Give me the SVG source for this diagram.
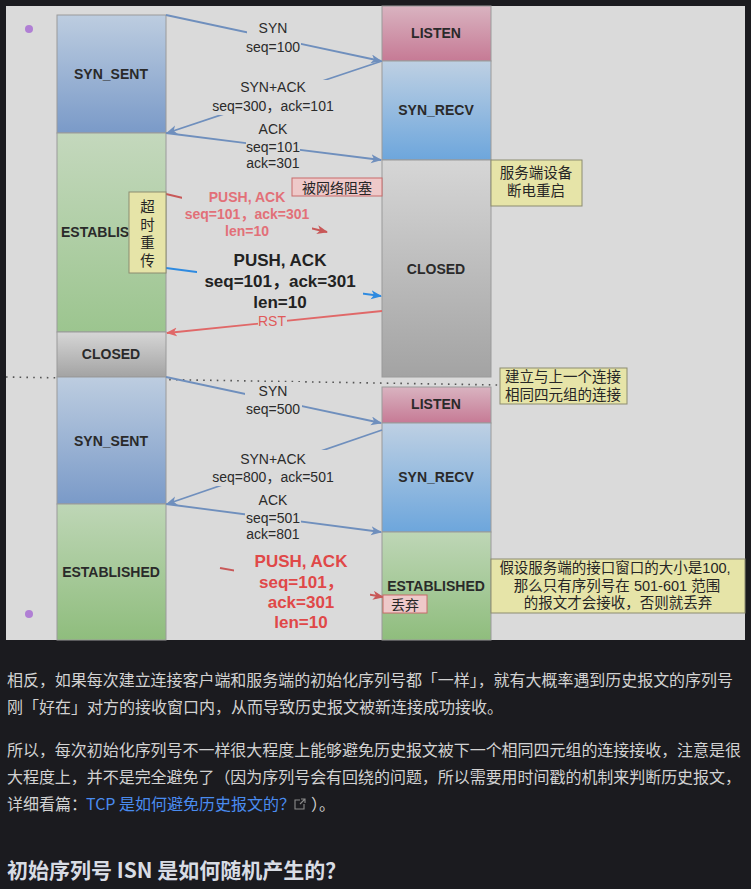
<svg xmlns="http://www.w3.org/2000/svg" width="751" height="889" viewBox="0 0 751 889">
<style>
.st{font-family:"Liberation Sans","Noto Sans CJK SC",sans-serif;font-weight:bold;font-size:14px;fill:#2a2a2a;text-anchor:middle}
.lb{font-family:"Liberation Sans","Noto Sans CJK SC",sans-serif;font-size:14px;fill:#2b2b2b;text-anchor:middle}
.big{font-family:"Liberation Sans","Noto Sans CJK SC",sans-serif;font-weight:bold;font-size:17px;text-anchor:middle}
.red1{font-family:"Liberation Sans","Noto Sans CJK SC",sans-serif;font-weight:bold;font-size:14px;fill:#e27078;text-anchor:middle}
.note{font-family:"Liberation Sans","Noto Sans CJK SC",sans-serif;font-size:14px;fill:#262626;text-anchor:middle}
.bg{fill:#dadada}
.box{stroke:#9a9a9a;stroke-width:1}
.nb{fill:#e6e4a8;stroke:#8c8c70;stroke-width:1}
.pb{fill:#eec9c9;stroke:#c86a6a;stroke-width:1}
.c{fill:none;stroke-width:1.8}
.p{font-family:"Noto Sans CJK SC",sans-serif;font-size:16px;fill:#d2d2d2}
</style>
<defs>
<linearGradient id="gSent" x1="0" y1="0" x2="0" y2="1"><stop offset="0" stop-color="#bdcde0"/><stop offset="1" stop-color="#7a9ac8"/></linearGradient>
<linearGradient id="gEst" x1="0" y1="0" x2="0" y2="1"><stop offset="0" stop-color="#c4d8bd"/><stop offset="1" stop-color="#9cc58f"/></linearGradient>
<linearGradient id="gEst2" x1="0" y1="0" x2="0" y2="1"><stop offset="0" stop-color="#bed6b6"/><stop offset="1" stop-color="#8fbd7d"/></linearGradient>
<linearGradient id="gClosed" x1="0" y1="0" x2="0" y2="1"><stop offset="0" stop-color="#d6d6d6"/><stop offset="1" stop-color="#a3a3a3"/></linearGradient>
<linearGradient id="gListen" x1="0" y1="0" x2="0" y2="1"><stop offset="0" stop-color="#d9b3c0"/><stop offset="1" stop-color="#c67a95"/></linearGradient>
<linearGradient id="gRecv" x1="0" y1="0" x2="0" y2="1"><stop offset="0" stop-color="#bed0e3"/><stop offset="1" stop-color="#6da6dc"/></linearGradient>
<marker id="aB" markerUnits="userSpaceOnUse" markerWidth="12" markerHeight="10" refX="10" refY="4.5" orient="auto"><path d="M0,0 L11,4.5 L0,9 L3,4.5 z" fill="#6f8fbd"/></marker>
<marker id="aR" markerUnits="userSpaceOnUse" markerWidth="12" markerHeight="10" refX="10" refY="4.5" orient="auto"><path d="M0,0 L11,4.5 L0,9 L3,4.5 z" fill="#c85858"/></marker>
<marker id="aRst" markerUnits="userSpaceOnUse" markerWidth="12" markerHeight="10" refX="10" refY="4.5" orient="auto"><path d="M0,0 L11,4.5 L0,9 L3,4.5 z" fill="#e06868"/></marker>
<marker id="aBl" markerUnits="userSpaceOnUse" markerWidth="12" markerHeight="10" refX="10" refY="4.5" orient="auto"><path d="M0,0 L11,4.5 L0,9 L3,4.5 z" fill="#2e8ae0"/></marker>
</defs>
<rect x="0" y="0" width="751" height="889" fill="#1b1b1f"/>
<rect x="6" y="6" width="739" height="634" fill="#dadada"/>
<circle cx="29" cy="29" r="4" fill="#b07fd4"/>
<circle cx="29" cy="614" r="4" fill="#b07fd4"/>
<line x1="6" y1="377" x2="500" y2="385" stroke="#555" stroke-width="1.6" stroke-dasharray="1.6 5.2"/>

<g id="client-syn-sent"><rect class="box" x="57" y="15" width="109" height="118" fill="url(#gSent)"/><text class="st" x="111" y="79">SYN_SENT</text></g>
<g id="client-established"><rect class="box" x="57" y="133" width="109" height="199" fill="url(#gEst)"/><text class="st" x="61" y="237" style="text-anchor:start">ESTABLIS</text></g>
<g id="client-closed"><rect class="box" x="57" y="332" width="109" height="45" fill="url(#gClosed)"/><text class="st" x="111" y="359">CLOSED</text></g>
<g id="client-syn-sent-2"><rect class="box" x="57" y="377" width="109" height="127" fill="url(#gSent)"/><text class="st" x="111" y="446">SYN_SENT</text></g>
<g id="client-established-2"><rect class="box" x="57" y="504" width="109" height="136" fill="url(#gEst2)"/><text class="st" x="111" y="577">ESTABLISHED</text></g>

<g id="server-listen"><rect class="box" x="382" y="6" width="109" height="55" fill="url(#gListen)"/><text class="st" x="436" y="38">LISTEN</text></g>
<g id="server-syn-recv"><rect class="box" x="382" y="61" width="109" height="99" fill="url(#gRecv)"/><text class="st" x="436" y="115">SYN_RECV</text></g>
<g id="server-closed"><rect class="box" x="382" y="160" width="109" height="217" fill="url(#gClosed)"/><text class="st" x="436" y="274">CLOSED</text></g>
<g id="server-listen-2"><rect class="box" x="382" y="387" width="109" height="36" fill="url(#gListen)"/><text class="st" x="436" y="409">LISTEN</text></g>
<g id="server-syn-recv-2"><rect class="box" x="382" y="423" width="109" height="109" fill="url(#gRecv)"/><text class="st" x="436" y="482">SYN_RECV</text></g>
<g id="server-established-2"><rect class="box" x="382" y="532" width="109" height="108" fill="url(#gEst2)"/><text class="st" x="436" y="591">ESTABLISHED</text></g>

<g id="connectors">
<line class="c" x1="166" y1="15" x2="381" y2="61" stroke="#6f8fbd" marker-end="url(#aB)"/>
<line class="c" x1="382" y1="61" x2="167" y2="133" stroke="#6f8fbd" marker-end="url(#aB)"/>
<line class="c" x1="166" y1="133" x2="381" y2="160" stroke="#6f8fbd" marker-end="url(#aB)"/>
<line class="c" x1="166" y1="194" x2="327" y2="232" stroke="#c85858" marker-end="url(#aR)"/>
<line class="c" x1="166" y1="268" x2="381" y2="296" stroke="#2e8ae0" marker-end="url(#aBl)"/>
<line class="c" x1="382" y1="311" x2="167" y2="333" stroke="#e06868" marker-end="url(#aRst)"/>
<line class="c" x1="166" y1="377" x2="381" y2="423" stroke="#6f8fbd" marker-end="url(#aB)"/>
<line class="c" x1="382" y1="430" x2="167" y2="504" stroke="#6f8fbd" marker-end="url(#aB)"/>
<line class="c" x1="166" y1="504" x2="381" y2="532" stroke="#6f8fbd" marker-end="url(#aB)"/>
<line class="c" x1="220" y1="568" x2="383" y2="597" stroke="#c85858" marker-end="url(#aR)"/>
</g>

<g id="labels">
<rect class="bg" x="247" y="20" width="54" height="35"/>
<text class="lb" x="273" y="33">SYN</text><text class="lb" x="273" y="52">seq=100</text>
<rect class="bg" x="212" y="80" width="123" height="35"/>
<text class="lb" x="273" y="92">SYN+ACK</text><text class="lb" x="273" y="111">seq=300，ack=101</text>
<rect class="bg" x="246" y="120" width="54" height="52"/>
<text class="lb" x="273" y="134">ACK</text><text class="lb" x="273" y="152">seq=101</text><text class="lb" x="273" y="168">ack=301</text>
<rect class="bg" x="182" y="188" width="130" height="52"/>
<text class="red1" x="247" y="202">PUSH, ACK</text><text class="red1" x="247" y="219">seq=101，ack=301</text><text class="red1" x="247" y="236">len=10</text>
<rect class="bg" x="197" y="250" width="166" height="62"/>
<text class="big" x="280" y="266" fill="#222">PUSH, ACK</text><text class="big" x="280" y="287" fill="#222">seq=101，ack=301</text><text class="big" x="280" y="308" fill="#222">len=10</text>
<rect class="bg" x="258" y="314" width="29" height="14"/>
<text class="lb" x="272" y="326" style="fill:#e05a5a">RST</text>
<rect class="bg" x="245" y="382" width="57" height="35"/>
<text class="lb" x="273" y="396">SYN</text><text class="lb" x="273" y="414">seq=500</text>
<rect class="bg" x="212" y="450" width="123" height="36"/>
<text class="lb" x="273" y="464">SYN+ACK</text><text class="lb" x="273" y="482">seq=800，ack=501</text>
<rect class="bg" x="245" y="491" width="56" height="51"/>
<text class="lb" x="273" y="505">ACK</text><text class="lb" x="273" y="523">seq=501</text><text class="lb" x="273" y="539">ack=801</text>
<rect class="bg" x="234" y="548" width="136" height="84"/>
<text class="big" x="301" y="567" fill="#e04848">PUSH, ACK</text><text class="big" x="259" y="588" fill="#e04848" style="text-anchor:start">seq=101，</text><text class="big" x="301" y="608" fill="#e04848">ack=301</text><text class="big" x="301" y="628" fill="#e04848">len=10</text>
</g>

<g id="note-retransmit"><rect class="nb" x="129" y="192" width="37" height="81"/>
<text class="note" style="font-size:14.5px"><tspan x="147.5" y="212">超</tspan><tspan x="147.5" dy="18">时</tspan><tspan x="147.5" dy="18">重</tspan><tspan x="147.5" dy="18">传</tspan></text></g>
<g id="note-blocked"><rect class="pb" x="292" y="178" width="90" height="18"/><text class="note" x="337" y="193">被网络阻塞</text></g>
<g id="note-restart"><rect class="nb" x="491" y="160" width="91" height="46"/><text class="note" style="font-size:14.5px"><tspan x="536" y="178">服务端设备</tspan><tspan x="536" dy="18">断电重启</tspan></text></g>
<g id="note-same-tuple"><rect class="nb" x="500" y="368" width="127" height="36"/><text class="note" style="font-size:14.5px"><tspan x="563" y="382">建立与上一个连接</tspan><tspan x="563" dy="18">相同四元组的连接</tspan></text></g>
<g id="note-window"><rect class="nb" x="491" y="559" width="254" height="54"/><text class="note" style="font-size:14.5px"><tspan x="615" y="573">假设服务端的接口窗口的大小是100,</tspan><tspan x="617" dy="18">那么只有序列号在 501-601 范围</tspan><tspan x="618" dy="17">的报文才会接收，否则就丢弃</tspan></text></g>
<g id="note-drop"><rect class="pb" x="383" y="595" width="44" height="18"/><text class="note" x="405" y="610">丢弃</text></g>

<g id="page-text">
<text class="p" x="7" y="686" textLength="726" lengthAdjust="spacing">相反，如果每次建立连接客户端和服务端的初始化序列号都「一样」，就有大概率遇到历史报文的序列号</text>
<text class="p" x="7" y="713">刚「好在」对方的接收窗口内，从而导致历史报文被新连接成功接收。</text>
<text class="p" x="7" y="756" textLength="734" lengthAdjust="spacing">所以，每次初始化序列号不一样很大程度上能够避免历史报文被下一个相同四元组的连接接收，注意是很</text>
<text class="p" x="7" y="783" textLength="734" lengthAdjust="spacing">大程度上，并不是完全避免了（因为序列号会有回绕的问题，所以需要用时间戳的机制来判断历史报文，</text>
<text class="p" x="7" y="810">详细看篇：</text>
<text class="p" x="86" y="810" style="fill:#4a8cf0">TCP 是如何避免历史报文的？</text>
<g fill="none" stroke="#8a8a8a" stroke-width="1.1"><path d="M300,800 h-5 v9 h9 v-5"/><path d="M301,799 h4 v4 M305,799 l-5,5"/></g>
<text class="p" x="311" y="810">）。</text>
<text x="7" y="878" style="font-family:'Noto Sans CJK SC',sans-serif;font-size:21px;font-weight:600;fill:#d8dce4">初始序列号 ISN 是如何随机产生的？</text>
</g>
</svg>
